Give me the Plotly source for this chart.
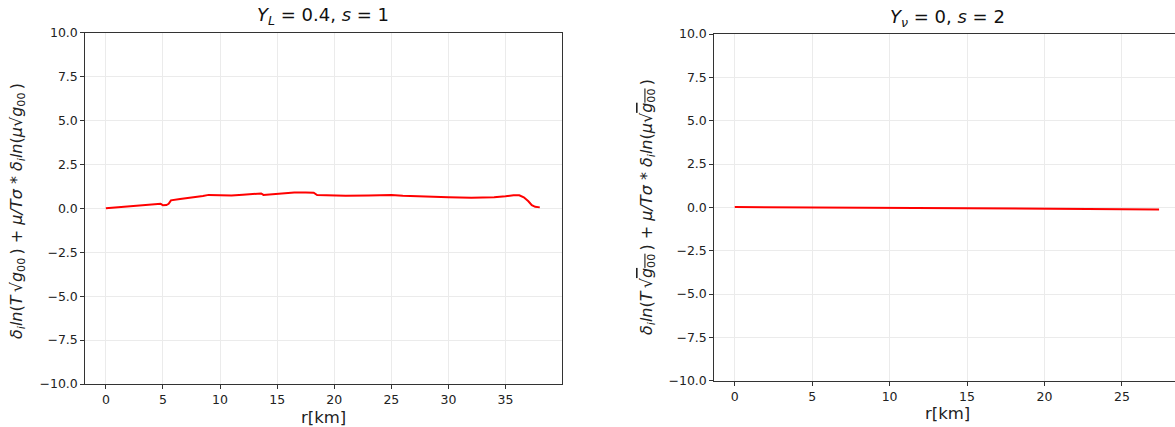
import plotly.graph_objects as go

# Left panel data (Y_L = 0.4, s = 1)
r_left = [0, 1, 2, 3, 4, 4.8, 5.0, 5.3, 5.5, 5.7, 6.5, 7.5, 8.5, 9, 10, 11, 12, 13,
          13.6, 13.8, 14.5, 15.5, 16.5, 17.5, 18.2, 18.5, 19.5, 21, 23, 25, 26, 27,
          28, 30, 32, 33, 34, 35, 35.7, 36.2, 36.6, 37.0, 37.3, 37.6, 38.0]
v_left = [0.0, 0.05, 0.1, 0.15, 0.2, 0.25, 0.17, 0.18, 0.25, 0.45, 0.53, 0.6, 0.7,
          0.76, 0.74, 0.72, 0.77, 0.83, 0.84, 0.76, 0.8, 0.86, 0.89, 0.89, 0.88,
          0.75, 0.72, 0.71, 0.73, 0.76, 0.71, 0.68, 0.65, 0.62, 0.6, 0.61, 0.62,
          0.68, 0.74, 0.74, 0.62, 0.4, 0.18, 0.08, 0.05]

# Right panel data (Y_nu = 0, s = 2)
r_right = [0, 5, 10, 15, 20, 25, 27.4]
v_right = [0.02, 0.0, -0.02, -0.05, -0.08, -0.11, -0.12]

y_ticks = [-10.0, -7.5, -5.0, -2.5, 0.0, 2.5, 5.0, 7.5, 10.0]
y_ticktext = ["\u221210.0", "\u22127.5", "\u22125.0", "\u22122.5", "0.0", "2.5", "5.0", "7.5", "10.0"]

titles = ["<i>Y<sub>L</sub></i> = 0.4, <i>s</i> = 1",
          "<i>Y<sub>\u03bd</sub></i> = 0, <i>s</i> = 2"]
ylabel_left = ("<i>\u03b4<sub>i</sub>ln</i>(<i>T</i>\u2009\u221a<i>g</i><sub>00</sub>\u2009) + "
               "<i>\u03bc/T\u03c3</i> * <i>\u03b4<sub>i</sub>ln</i>(<i>\u03bc</i>\u221a<i>g</i><sub>00</sub>\u2009)")
ylabel_right = ("<i>\u03b4<sub>i</sub>ln</i>(<i>T</i>\u2009\u221a<span style='text-decoration:overline'><i>g</i><sub>00</sub></span>\u2009) + "
                "<i>\u03bc/T\u03c3</i> * <i>\u03b4<sub>i</sub>ln</i>(<i>\u03bc</i>\u221a<span style='text-decoration:overline'><i>g</i><sub>00</sub></span>\u2009)")
xlabel = "r[km]"

W, H = 1175, 427
FONT = "DejaVu Sans"

fig = go.Figure()
fig.add_trace(go.Scatter(x=r_left, y=v_left, mode="lines",
                         line=dict(color="red", width=2), xaxis="x", yaxis="y",
                         showlegend=False))
fig.add_trace(go.Scatter(x=r_right, y=v_right, mode="lines",
                         line=dict(color="red", width=2), xaxis="x2", yaxis="y2",
                         showlegend=False))

L = dict(x0=85.3, x1=561.5, top=32.5, bot=384)
R = dict(x0=714.3, x1=1175, top=34, bot=380.7)

def ax_common():
    return dict(showgrid=True, gridcolor="#ebebeb", gridwidth=1, zeroline=False,
                showline=True, linecolor="#333", linewidth=1, automargin=False,
                ticks="outside", ticklen=4, tickcolor="#333", tickwidth=1,
                tickfont=dict(family=FONT, size=12.5, color="#222"))

xa1 = ax_common(); xa1.update(domain=[L["x0"]/W, L["x1"]/W], range=[-1.8, 39.9],
                               tickvals=[0, 5, 10, 15, 20, 25, 30, 35], mirror=True,
                               anchor="y")
ya1 = ax_common(); ya1.update(domain=[1 - L["bot"]/H, 1 - L["top"]/H], range=[-10, 10],
                               tickvals=y_ticks, ticktext=y_ticktext, mirror=True,
                               anchor="x")
xa2 = ax_common(); xa2.update(domain=[R["x0"]/W, 1.0], range=[-1.32, 28.43],
                               tickvals=[0, 5, 10, 15, 20, 25], mirror=True, anchor="y2")
ya2 = ax_common(); ya2.update(domain=[1 - R["bot"]/H, 1 - R["top"]/H], range=[-10, 10],
                               tickvals=y_ticks, ticktext=y_ticktext, anchor="x2")

annots = [
    dict(text=titles[0], x=(L["x0"] + L["x1"]) / 2 / W, y=1 - 16/H, xref="paper", yref="paper",
         showarrow=False, font=dict(family=FONT, size=18, color="#111"), xanchor="center", yanchor="middle"),
    dict(text=titles[1], x=(714.3 + 1181) / 2 / W, y=1 - 18/H, xref="paper", yref="paper",
         showarrow=False, font=dict(family=FONT, size=18, color="#111"), xanchor="center", yanchor="middle"),
    dict(text=xlabel, x=(L["x0"] + L["x1"]) / 2 / W, y=1 - 417/H, xref="paper", yref="paper",
         showarrow=False, font=dict(family=FONT, size=16.5, color="#222"), xanchor="center", yanchor="middle"),
    dict(text=xlabel, x=(714.3 + 1181) / 2 / W, y=1 - 413/H, xref="paper", yref="paper",
         showarrow=False, font=dict(family=FONT, size=16.5, color="#222"), xanchor="center", yanchor="middle"),
    dict(text=ylabel_left, x=17/W, y=1 - 211/H, xref="paper", yref="paper", textangle=-90,
         showarrow=False, font=dict(family=FONT, size=16, color="#222"), xanchor="center", yanchor="middle"),
    dict(text=ylabel_right, x=647/W, y=1 - 207/H, xref="paper", yref="paper", textangle=-90,
         showarrow=False, font=dict(family=FONT, size=16, color="#222"), xanchor="center", yanchor="middle"),
]

fig.update_layout(width=W, height=H, margin=dict(l=0, r=0, t=0, b=0, autoexpand=False),
                  paper_bgcolor="white", plot_bgcolor="white",
                  xaxis=xa1, yaxis=ya1, xaxis2=xa2, yaxis2=ya2,
                  annotations=annots, font=dict(family=FONT))

fig.write_html("out.html")
